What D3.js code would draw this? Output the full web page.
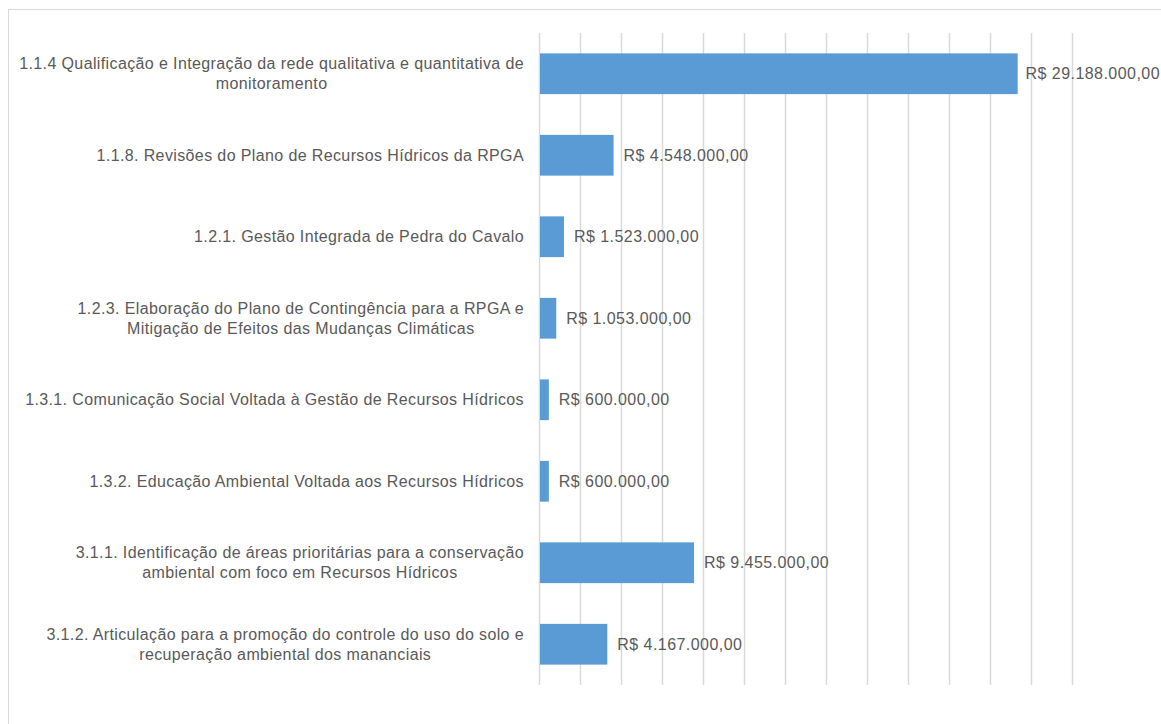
<!DOCTYPE html>
<html>
<head>
<meta charset="utf-8">
<script src="https://cdn.jsdelivr.net/npm/d3@7"></script>
<style>
  html, body { margin: 0; padding: 0; background: #ffffff; }
  svg { display: block; }
  text { font-family: "Liberation Sans", Arial, sans-serif; fill: #595959; }
</style>
</head>
<body>
<svg id="chart" width="1161" height="724"></svg>
<script>
// ---- data ----
const categories = [
  ["1.1.4 Qualificação e Integração da rede qualitativa e quantitativa de", "monitoramento"],
  ["1.1.8. Revisões do Plano de Recursos Hídricos da RPGA"],
  ["1.2.1. Gestão Integrada de Pedra do Cavalo"],
  ["1.2.3. Elaboração do Plano de Contingência para a RPGA e", "Mitigação de Efeitos das Mudanças Climáticas"],
  ["1.3.1. Comunicação Social Voltada à Gestão de Recursos Hídricos"],
  ["1.3.2. Educação Ambiental Voltada aos Recursos Hídricos"],
  ["3.1.1. Identificação de áreas prioritárias para a conservação", "ambiental com foco em Recursos Hídricos"],
  ["3.1.2. Articulação para a promoção do controle do uso do solo e", "recuperação ambiental dos mananciais"]
];
const values = [29188000, 4548000, 1523000, 1053000, 600000, 600000, 9455000, 4167000];
const valueLabels = [
  "R$ 29.188.000,00", "R$ 4.548.000,00", "R$ 1.523.000,00", "R$ 1.053.000,00",
  "R$ 600.000,00", "R$ 600.000,00", "R$ 9.455.000,00", "R$ 4.167.000,00"
];
const xTicks = [0, 2500000, 5000000, 7500000, 10000000, 12500000, 15000000, 17500000,
  20000000, 22500000, 25000000, 27500000, 30000000, 32500000];

// ---- layout ----
const svg = d3.select("#chart");
const W = 1161, H = 724;
const plotLeft = 539, plotRight = 1072, plotTop = 33, plotBottom = 685;

// chart border
svg.append("rect")
  .attr("x", 8.5).attr("y", 9.5)
  .attr("width", W + 10).attr("height", H + 10)
  .attr("fill", "#ffffff").attr("stroke", "#d9d9d9").attr("stroke-width", 1);

const x = d3.scaleLinear().domain([0, 32500000]).range([plotLeft, plotRight]);
const y = d3.scaleBand().domain(d3.range(categories.length))
  .range([plotTop, plotBottom]).paddingInner(0.5).paddingOuter(0.25);

// gridlines
const gridAxis = d3.axisBottom(x).tickValues(xTicks).tickSize(-(plotBottom - plotTop)).tickFormat("");
const g = svg.append("g").attr("transform", `translate(0,${plotBottom})`).call(gridAxis);
g.select(".domain").remove();
g.selectAll(".tick line").attr("stroke", "#d9d9d9").attr("stroke-width", 1.5);

// bars
svg.append("g").selectAll("rect").data(values).join("rect")
  .attr("x", x(0) + 1)
  .attr("y", (d, i) => y(i))
  .attr("width", d => x(d) - x(0) - 1)
  .attr("height", y.bandwidth())
  .attr("fill", "#5b9bd5");

// value labels
const fs = 16;
svg.append("g").selectAll("text").data(values).join("text")
  .attr("x", d => x(d) + 10)
  .attr("y", (d, i) => y(i) + y.bandwidth() / 2)
  .attr("dy", "0.35em")
  .attr("font-size", fs)
  .attr("letter-spacing", "0.45px")
  .text((d, i) => valueLabels[i])
  .each(function () {
    const w = this.getComputedTextLength();
    const xx = +this.getAttribute("x");
    if (xx + w > W - 1) this.setAttribute("x", W - 1 - w);
  });

// category labels (wrapped, centered block, right-aligned to axis)
const labelRight = 524;
const lineH = 20;
const catG = svg.append("g");
categories.forEach((lines, i) => {
  const cy = y(i) + y.bandwidth() / 2;
  const t = catG.append("text").attr("font-size", fs).attr("letter-spacing", "0.38px");
  let maxW = 0;
  const spans = lines.map(l => t.append("tspan").text(l));
  spans.forEach(s => { maxW = Math.max(maxW, s.node().getComputedTextLength()); });
  const cx = labelRight - maxW / 2;
  const y0 = cy - (lines.length - 1) * lineH / 2;
  spans.forEach((s, k) => {
    s.attr("x", cx).attr("y", y0 + k * lineH).attr("dy", "0.35em").attr("text-anchor", "middle");
  });
});
</script>
</body>
</html>
